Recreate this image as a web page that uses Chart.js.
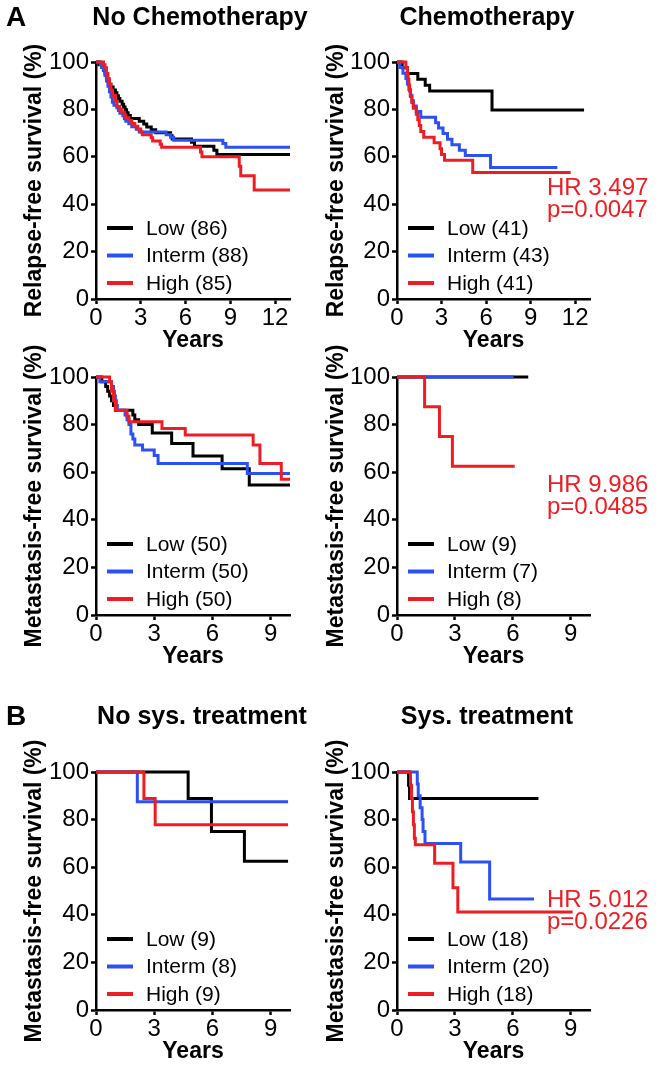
<!DOCTYPE html>
<html>
<head>
<meta charset="utf-8">
<script src="https://cdn.jsdelivr.net/npm/chart.js@4/dist/chart.umd.min.js"></script>
<style>
  body { margin: 0; background: #fff; }
  #fig { position: relative; width: 661px; height: 1068px; overflow: hidden; }
  canvas { position: absolute; }
</style>
</head>
<body>
<div id="fig">
  <canvas id="c1" width="320" height="360" style="left:0;top:0"></canvas>
  <canvas id="c2" width="341" height="360" style="left:320px;top:0"></canvas>
  <canvas id="c3" width="320" height="330" style="left:0;top:345px"></canvas>
  <canvas id="c4" width="341" height="330" style="left:320px;top:345px"></canvas>
  <canvas id="c5" width="320" height="378" style="left:0;top:690px"></canvas>
  <canvas id="c6" width="341" height="378" style="left:320px;top:690px"></canvas>
</div>
<script>
// tick labels
const yTicks = [0, 20, 40, 60, 80, 100];
const xTicksLong = [0, 3, 6, 9, 12];
const xTicksShort = [0, 3, 6, 9];

// A: relapse-free, no chemotherapy
const rfsNoChemoLowT = [0, 0.2, 0.4, 0.5, 0.6, 0.7, 0.8, 0.9, 1.0, 1.15, 1.3, 1.4, 1.5, 1.6, 1.75, 1.85, 1.95, 2.05, 2.15, 2.3, 2.9, 3.2, 3.4, 3.7, 4.0, 5.0, 5.1, 6.4, 6.6, 7.9, 8.1, 13];
const rfsNoChemoLowS = [100, 98.8, 97.7, 96.5, 95.3, 93, 91.8, 90.6, 89.4, 88.2, 87, 85.8, 84.6, 83.4, 82.2, 81, 79.8, 78.6, 77.4, 76.2, 75, 73.8, 72.6, 71.4, 70.2, 68.9, 67.5, 66.1, 64.5, 62.8, 61, 61];
const rfsNoChemoMidT = [0, 0.3, 0.4, 0.5, 0.6, 0.7, 0.8, 0.9, 1.0, 1.1, 1.2, 1.4, 1.5, 1.6, 1.8, 1.9, 2.0, 2.2, 2.4, 2.7, 2.9, 4.7, 5.0, 5.2, 8.5, 8.7, 13];
const rfsNoChemoMidS = [100, 98.9, 97.7, 96.6, 94.3, 92, 89.8, 87.5, 85.2, 83, 81.8, 80.7, 79.5, 78.4, 77.3, 76.1, 75, 73.9, 72.7, 71.6, 70.5, 69.3, 68.2, 67, 65.6, 64, 64];
const rfsNoChemoHighT = [0, 0.5, 0.6, 0.7, 0.8, 0.9, 1.0, 1.1, 1.3, 1.4, 1.6, 1.7, 1.9, 2.0, 2.2, 2.4, 2.6, 2.8, 3.0, 3.1, 3.7, 3.8, 4.3, 4.4, 7.0, 7.1, 9.6, 9.7, 10.6, 13];
const rfsNoChemoHighS = [100, 98.8, 97.6, 95.2, 92.9, 90.6, 88.2, 85.9, 83.5, 81.2, 80, 78.8, 77.6, 76.5, 75.3, 74.1, 72.9, 71.7, 70.5, 69.3, 68, 66.7, 65.3, 64, 62, 60, 56, 52, 46, 46];

// A: relapse-free, chemotherapy
const rfsChemoLowT = [0, 0.35, 0.7, 1.4, 1.9, 2.2, 6.4, 12.6];
const rfsChemoLowS = [100, 97.6, 95.1, 92.7, 90.2, 87.8, 79.7, 79.7];
const rfsChemoMidT = [0, 0.2, 0.4, 0.6, 0.7, 0.8, 0.9, 1.0, 1.1, 1.3, 1.6, 2.6, 2.8, 3.1, 3.4, 3.7, 4.2, 4.6, 6.3, 10.8];
const rfsChemoMidS = [100, 97.7, 95.3, 93, 90.7, 88.4, 86, 83.7, 81.4, 79.1, 76.7, 74.4, 72.1, 69.8, 67.4, 65.1, 62.8, 60.5, 55.5, 55.5];
const rfsChemoHighT = [0, 0.6, 0.7, 0.75, 0.8, 0.85, 0.9, 1.0, 1.1, 1.3, 1.4, 1.5, 1.6, 1.8, 2.5, 2.9, 3.0, 3.2, 5.1, 11.7];
const rfsChemoHighS = [100, 97.6, 95.1, 92.7, 90.2, 87.8, 85.4, 82.9, 80.5, 78, 75.6, 73.2, 70.7, 68.3, 65.9, 63.4, 61, 58.5, 53.4, 53.4];

// A: metastasis-free, no chemotherapy
const mfsNoChemoLowT = [0, 0.3, 0.5, 0.6, 0.7, 0.8, 0.9, 1.0, 1.9, 2.0, 2.2, 2.9, 3.9, 5.0, 6.5, 7.9, 10];
const mfsNoChemoLowS = [100, 98, 96, 94, 92, 90, 88, 86, 84, 82, 80, 76.5, 72.1, 66.8, 61.5, 54.6, 54.6];
const mfsNoChemoMidT = [0, 0.2, 0.8, 0.9, 0.95, 1.0, 1.05, 1.1, 1.5, 1.6, 1.7, 1.8, 1.9, 2.0, 2.4, 3.0, 3.2, 7.8, 10];
const mfsNoChemoMidS = [100, 98, 96, 94, 92, 90, 88, 86, 84, 82, 80, 76, 74, 71.4, 69.3, 67, 63.7, 59.5, 59.5];
const mfsNoChemoHighT = [0, 0.7, 0.8, 0.9, 1.0, 1.6, 1.7, 3.4, 4.6, 8.1, 8.45, 9.55, 10];
const mfsNoChemoHighS = [100, 98, 94, 90, 86, 83.5, 81.2, 78.4, 75.6, 71.4, 63.7, 57, 57];

// A: metastasis-free, chemotherapy
const mfsChemoLowT = [0, 6.8];
const mfsChemoLowS = [100, 100];
const mfsChemoMidT = [0, 6.05];
const mfsChemoMidS = [100, 100];
const mfsChemoHighT = [0, 1.43, 2.2, 2.87, 6.1];
const mfsChemoHighS = [100, 87.5, 75, 62.5, 62.5];

// B: metastasis-free, no systemic treatment
const mfsNoSysLowT = [0, 4.75, 5.95, 7.65, 9.9];
const mfsNoSysLowS = [100, 88.9, 75, 62.5, 62.5];
const mfsNoSysMidT = [0, 2.13, 9.9];
const mfsNoSysMidS = [100, 87.5, 87.5];
const mfsNoSysHighT = [0, 2.47, 3.05, 9.9];
const mfsNoSysHighS = [100, 88.9, 77.8, 77.8];

// B: metastasis-free, systemic treatment
const mfsSysLowT = [0, 0.6, 0.65, 7.33];
const mfsSysLowS = [100, 94.4, 88.9, 88.9];
const mfsSysMidT = [0, 1.05, 1.1, 1.2, 1.3, 1.35, 1.45, 3.3, 4.8, 7.1];
const mfsSysMidS = [100, 95, 90, 85, 80, 75, 70, 62.2, 46.6, 46.6];
const mfsSysHighT = [0, 0.7, 0.75, 0.8, 0.85, 0.9, 0.95, 1.95, 2.9, 3.15, 9.1];
const mfsSysHighS = [100, 94.4, 88.9, 83.3, 77.8, 72.2, 69.4, 61.7, 51.4, 41.2, 41.2];

const FONT = "'Liberation Sans', Arial, Helvetica, sans-serif";
const BLACK = '#000000';
const BLUE = '#2b50f5';
const RED = '#ee1d23';

Chart.defaults.font.family = FONT;
Chart.defaults.color = '#000';

// titles, y-axis label, legend and HR text drawn on top of each panel
const panelText = {
    id: 'panelText',
    afterDraw(chart, args, opts) {
        const ctx = chart.ctx;
        const area = chart.chartArea;
        ctx.save();
        ctx.fillStyle = '#000';
        ctx.textBaseline = 'middle';
        ctx.textAlign = 'center';
        ctx.font = 'bold 25px ' + FONT;
        ctx.fillText(opts.title, opts.titleX, opts.titleY);
        if (opts.letter) {
            ctx.font = 'bold 28px ' + FONT;
            ctx.fillText(opts.letter, 16, opts.titleY);
        }

        ctx.save();
        ctx.translate(opts.yTitleX, (area.top + area.bottom) / 2);
        ctx.rotate(-Math.PI / 2);
        ctx.font = 'bold 23px ' + FONT;
        ctx.fillText(opts.yTitle, 0, 0);
        ctx.restore();

        // legend inside the plot, bottom left
        ctx.textAlign = 'left';
        ctx.font = '21px ' + FONT;
        chart.data.datasets.forEach((ds, i) => {
            const y = area.bottom - 16 - (2 - i) * 27.5;
            ctx.strokeStyle = ds.borderColor;
            ctx.lineWidth = 4;
            ctx.beginPath();
            ctx.moveTo(area.left + 11, y);
            ctx.lineTo(area.left + 37, y);
            ctx.stroke();
            ctx.fillStyle = '#000';
            ctx.fillText(ds.label, area.left + 50, y + 1);
        });

        if (opts.hr) {
            ctx.fillStyle = RED;
            ctx.font = '24px ' + FONT;
            opts.hr.forEach((line, i) => {
                ctx.fillText(line, area.left + 150, area.bottom - opts.hrOffset + i * 22);
            });
        }
        ctx.restore();
    }
};

function series(label, t, s, color, order) {
    return {
        label: label,
        data: t.map((x, i) => ({ x: x, y: s[i] })),
        borderColor: color,
        borderWidth: 3,
        stepped: 'before',
        pointRadius: 0,
        fill: false,
        order: order,
        borderJoinStyle: 'miter',
        clip: false
    };
}

function makeChart(id, opt) {
    const ctx = document.getElementById(id).getContext('2d');
    return new Chart(ctx, {
        type: 'line',
        data: {
            datasets: [
                series(opt.names[0], opt.low[0], opt.low[1], BLACK, 2),
                series(opt.names[1], opt.mid[0], opt.mid[1], BLUE, 1),
                series(opt.names[2], opt.high[0], opt.high[1], RED, 0)
            ]
        },
        options: {
            responsive: false,
            animation: false,
            layout: {
                padding: { top: opt.padTop, bottom: opt.padBottom, left: 0, right: opt.padRight }
            },
            scales: {
                x: {
                    type: 'linear',
                    min: 0,
                    max: opt.xMax,
                    afterBuildTicks: scale => { scale.ticks = opt.xTicks.map(v => ({ value: v })); },
                    afterFit: scale => { scale.height = 55; },
                    ticks: { font: { size: 24 }, padding: 0, autoSkip: false, maxRotation: 0 },
                    grid: { drawOnChartArea: false, tickLength: 5, tickWidth: 2.5, tickColor: '#000' },
                    border: { color: '#000', width: 2.5 },
                    title: { display: true, text: 'Years', font: { size: 23, weight: 'bold' }, padding: 0 }
                },
                y: {
                    min: 0,
                    max: 100,
                    afterBuildTicks: scale => { scale.ticks = yTicks.map(v => ({ value: v })); },
                    afterFit: scale => { scale.width = opt.yWidth; },
                    ticks: { font: { size: 24 }, padding: 2 },
                    grid: { drawOnChartArea: false, tickLength: 5, tickWidth: 2.5, tickColor: '#000' },
                    border: { color: '#000', width: 2.5 }
                }
            },
            plugins: {
                legend: { display: false },
                tooltip: { enabled: false },
                panelText: opt.text
            }
        },
        plugins: [panelText]
    });
}

const rfsTitle = 'Relapse-free survival (%)';
const mfsTitle = 'Metastasis-free survival (%)';

makeChart('c1', {
    names: ['Low (86)', 'Interm (88)', 'High (85)'],
    low: [rfsNoChemoLowT, rfsNoChemoLowS], mid: [rfsNoChemoMidT, rfsNoChemoMidS], high: [rfsNoChemoHighT, rfsNoChemoHighS],
    xMax: 13, xTicks: xTicksLong, yWidth: 96, padTop: 62, padBottom: 6, padRight: 30,
    text: { title: 'No Chemotherapy', titleX: 200, titleY: 18, letter: 'A', yTitle: rfsTitle, yTitleX: 35 }
});
makeChart('c2', {
    names: ['Low (41)', 'Interm (43)', 'High (41)'],
    low: [rfsChemoLowT, rfsChemoLowS], mid: [rfsChemoMidT, rfsChemoMidS], high: [rfsChemoHighT, rfsChemoHighS],
    xMax: 13, xTicks: xTicksLong, yWidth: 77, padTop: 62, padBottom: 6, padRight: 71,
    text: { title: 'Chemotherapy', titleX: 167, titleY: 18, yTitle: rfsTitle, yTitleX: 17,
            hr: ['HR 3.497', 'p=0.0047'], hrOffset: 111 }
});
makeChart('c3', {
    names: ['Low (50)', 'Interm (50)', 'High (50)'],
    low: [mfsNoChemoLowT, mfsNoChemoLowS], mid: [mfsNoChemoMidT, mfsNoChemoMidS], high: [mfsNoChemoHighT, mfsNoChemoHighS],
    xMax: 10, xTicks: xTicksShort, yWidth: 96, padTop: 32, padBottom: 5, padRight: 30,
    text: { title: '', titleX: 0, titleY: 0, yTitle: mfsTitle, yTitleX: 35 }
});
makeChart('c4', {
    names: ['Low (9)', 'Interm (7)', 'High (8)'],
    low: [mfsChemoLowT, mfsChemoLowS], mid: [mfsChemoMidT, mfsChemoMidS], high: [mfsChemoHighT, mfsChemoHighS],
    xMax: 10, xTicks: xTicksShort, yWidth: 77, padTop: 32, padBottom: 5, padRight: 71,
    text: { title: '', titleX: 0, titleY: 0, yTitle: mfsTitle, yTitleX: 17,
            hr: ['HR 9.986', 'p=0.0485'], hrOffset: 130 }
});
makeChart('c5', {
    names: ['Low (9)', 'Interm (8)', 'High (9)'],
    low: [mfsNoSysLowT, mfsNoSysLowS], mid: [mfsNoSysMidT, mfsNoSysMidS], high: [mfsNoSysHighT, mfsNoSysHighS],
    xMax: 10, xTicks: xTicksShort, yWidth: 96, padTop: 82, padBottom: 3, padRight: 30,
    text: { title: 'No sys. treatment', titleX: 202, titleY: 27, letter: 'B', yTitle: mfsTitle, yTitleX: 35 }
});
makeChart('c6', {
    names: ['Low (18)', 'Interm (20)', 'High (18)'],
    low: [mfsSysLowT, mfsSysLowS], mid: [mfsSysMidT, mfsSysMidS], high: [mfsSysHighT, mfsSysHighS],
    xMax: 10, xTicks: xTicksShort, yWidth: 77, padTop: 82, padBottom: 3, padRight: 71,
    text: { title: 'Sys. treatment', titleX: 167, titleY: 27, yTitle: mfsTitle, yTitleX: 17,
            hr: ['HR 5.012', 'p=0.0226'], hrOffset: 110 }
});
</script>
</body>
</html>
